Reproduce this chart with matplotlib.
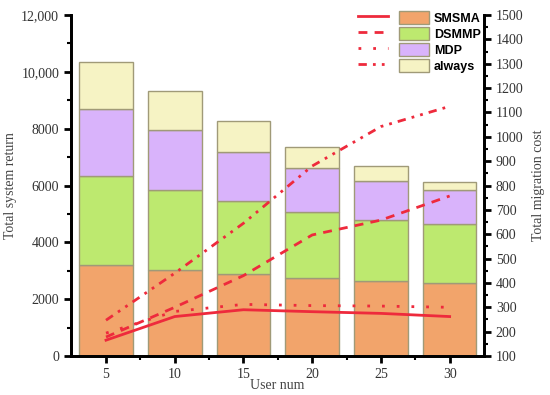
import matplotlib
matplotlib.use("Agg")
import matplotlib.pyplot as plt
from matplotlib.legend_handler import HandlerTuple
from matplotlib.patches import Patch
from matplotlib.lines import Line2D
from matplotlib.ticker import MultipleLocator, FixedLocator

users = [5, 10, 15, 20, 25, 30]
series = ["SMSMA", "DSMMP", "MDP", "always"]

# stacked bar segment heights (Total system return)
ret_smsma = [3220, 3030, 2880, 2740, 2630, 2560]
ret_dsmmp = [3130, 2810, 2570, 2320, 2150, 2070]
ret_mdp = [2330, 2110, 1720, 1540, 1380, 1200]
ret_always = [1670, 1390, 1090, 740, 530, 300]

# lines (Total migration cost)
cost_smsma = [165, 262, 290, 282, 275, 262]
cost_dsmmp = [178, 300, 430, 597, 658, 757]
cost_mdp = [194, 283, 312, 307, 305, 300]
cost_always = [247, 440, 645, 880, 1042, 1125]

left_ticks = [0, 2000, 4000, 6000, 8000, 10000, 12000]
left_labels = ["0", "2000", "4000", "6000", "8000", "10,000", "12,000"]

bar_colors = ["#F2A46B", "#BDE96F", "#D9B3FB", "#F6F3C4"]
edge = "#A09A78"
red = "#EE2A3C"

plt.rcParams["font.family"] = ["Liberation Serif", "DejaVu Serif"]

fig = plt.figure(figsize=(5.5, 3.95), dpi=100)
ax = fig.add_axes([0.129, 0.0987, 0.751, 0.8633])

bottoms = [0] * len(users)
for vals, col in zip([ret_smsma, ret_dsmmp, ret_mdp, ret_always], bar_colors):
    ax.bar(users, vals, width=3.9, bottom=bottoms, color=col, edgecolor=edge, linewidth=1.0, zorder=2)
    bottoms = [b + v for b, v in zip(bottoms, vals)]

ax.set_xlim(2.45, 32.5)
ax.set_ylim(0, 12000)
ax.yaxis.set_major_locator(FixedLocator(left_ticks))
ax.set_yticklabels(left_labels)
ax.yaxis.set_minor_locator(MultipleLocator(1000))
ax.set_xticks(users)
ax.xaxis.set_minor_locator(FixedLocator([7.5, 12.5, 17.5, 22.5, 27.5]))
ax.set_xlabel("User num", fontsize=10, color="#444444", labelpad=-1)
ax.set_ylabel("Total system return", fontsize=10, color="#444444", labelpad=3)

ax2 = ax.twinx()
ls_list = ["-", (0, (3.2, 2.6)), (0, (1, 4.3)), (0, (3, 2.2, 1, 2.2, 1, 2.2))]
for vals, ls in zip([cost_smsma, cost_dsmmp, cost_mdp, cost_always], ls_list):
    ax2.plot(users, vals, color=red, linestyle=ls, linewidth=2.0, zorder=5)
ax2.set_ylim(100, 1500)
ax2.yaxis.set_major_locator(MultipleLocator(100))
ax2.yaxis.set_minor_locator(MultipleLocator(50))
ax2.set_ylabel("Total migration cost", fontsize=10, color="#444444", labelpad=6)

for a in (ax, ax2):
    a.spines["top"].set_visible(False)
    for s in ("left", "right", "bottom"):
        a.spines[s].set_linewidth(2.0)
        a.spines[s].set_color("black")
    a.tick_params(which="major", direction="out", length=5, width=2.0, labelsize=10, labelcolor="#333333")
    a.tick_params(which="minor", direction="out", length=3, width=1.5)

handles = []
for col, ls in zip(bar_colors, ls_list):
    ln = Line2D([0], [0], color=red, linestyle=ls, linewidth=2.0)
    p = Patch(facecolor=col, edgecolor=edge, linewidth=1.0)
    handles.append((ln, p))
leg = ax2.legend(handles, series, handler_map={tuple: HandlerTuple(ndivide=None, pad=0.9)},
                 loc="upper left", bbox_to_anchor=(0.667, 1.045), frameon=False,
                 handlelength=5.7, handleheight=1.21, labelspacing=0.19, handletextpad=0.38,
                 prop={"family": "Liberation Sans", "weight": "bold", "size": 9})
leg.set_zorder(10)

fig.savefig("out.png", dpi=100)
